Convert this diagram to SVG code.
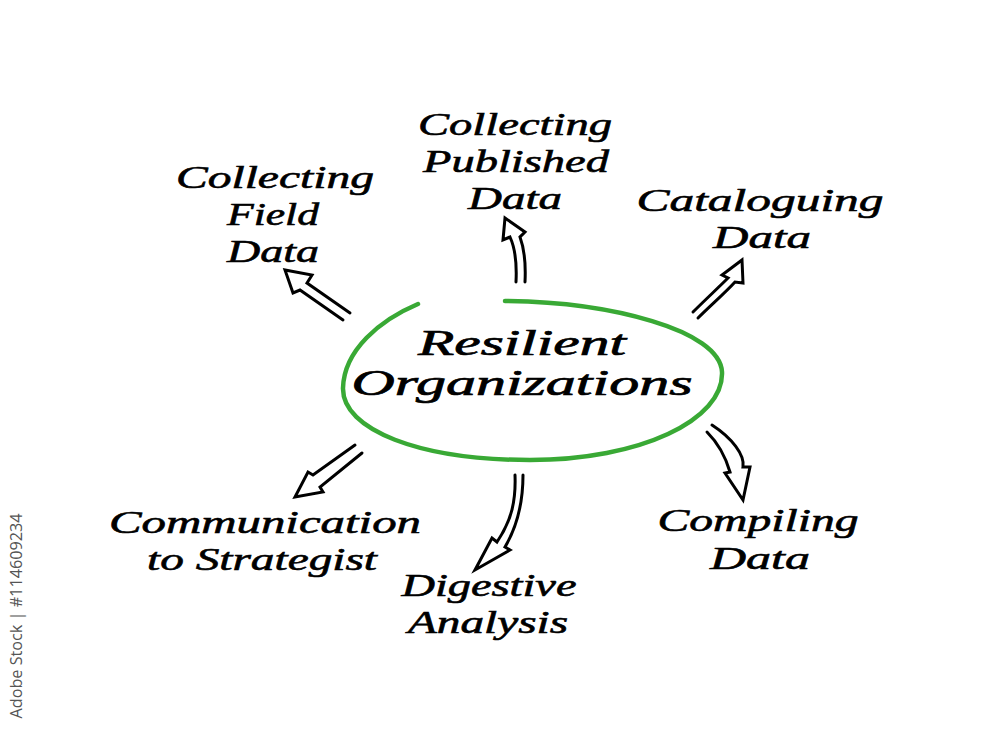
<svg xmlns="http://www.w3.org/2000/svg" width="1000" height="751" viewBox="0 0 1000 751">
  <style>
    .lbl { font-family: "Liberation Serif", serif; font-style: italic; font-size: 32px; fill: #000; stroke: #000; stroke-width: 0.6; text-anchor: middle; }
    .main { font-size: 36px; stroke-width: 0.7; }
    .arrow { fill: none; stroke: #000; stroke-width: 3; stroke-linejoin: miter; stroke-linecap: round; }
    .ring { fill: none; stroke: #39a935; stroke-width: 4.5; stroke-linecap: round; }
    .wm { font-family: "Open Sans", "DejaVu Sans", sans-serif; font-size: 16px; fill: #555; text-anchor: middle; }
  </style>
  <rect width="1000" height="751" fill="#fff"/>

  <g id="center">
    <path class="ring" d="M505,301 C610,302 720,330 722,372 C724,420 640,460 530,460 C420,460 342,430 343,388 C344,350 380,320 418,304"/>
    <text class="lbl main" x="522" y="355" textLength="208" lengthAdjust="spacingAndGlyphs">Resilient</text>
    <text class="lbl main" x="522" y="395" textLength="341" lengthAdjust="spacingAndGlyphs">Organizations</text>
  </g>

  <g id="field">
    <text class="lbl" x="275" y="188" textLength="198" lengthAdjust="spacingAndGlyphs">Collecting</text>
    <text class="lbl" x="273" y="225" textLength="92" lengthAdjust="spacingAndGlyphs">Field</text>
    <text class="lbl" x="273" y="262" textLength="92" lengthAdjust="spacingAndGlyphs">Data</text>
  </g>

  <g id="published">
    <text class="lbl" x="515" y="135" textLength="194" lengthAdjust="spacingAndGlyphs">Collecting</text>
    <text class="lbl" x="516" y="172" textLength="186" lengthAdjust="spacingAndGlyphs">Published</text>
    <text class="lbl" x="515" y="209" textLength="94" lengthAdjust="spacingAndGlyphs">Data</text>
  </g>

  <g id="cataloguing">
    <text class="lbl" x="760" y="211" textLength="247" lengthAdjust="spacingAndGlyphs">Cataloguing</text>
    <text class="lbl" x="762" y="248" textLength="98" lengthAdjust="spacingAndGlyphs">Data</text>
  </g>

  <g id="compiling">
    <text class="lbl" x="758" y="531" textLength="201" lengthAdjust="spacingAndGlyphs">Compiling</text>
    <text class="lbl" x="760" y="569" textLength="100" lengthAdjust="spacingAndGlyphs">Data</text>
  </g>

  <g id="digestive">
    <text class="lbl" x="489" y="596" textLength="175" lengthAdjust="spacingAndGlyphs">Digestive</text>
    <text class="lbl" x="488" y="633" textLength="160" lengthAdjust="spacingAndGlyphs">Analysis</text>
  </g>

  <g id="communication">
    <text class="lbl" x="265" y="533" textLength="312" lengthAdjust="spacingAndGlyphs">Communication</text>
    <text class="lbl" x="262" y="570" textLength="230" lengthAdjust="spacingAndGlyphs">to Strategist</text>
  </g>

  <g id="connectors">
    <path class="arrow" d="M343,320 L300,290 L293,293 L285,270 L312,275 L307,283 L350,313"/>
    <path class="arrow" d="M516,282 C517,262 515,248 510,237 L503,240 L505,218 L525,232 L520,237 C524,248 526,262 525,282"/>
    <path class="arrow" d="M693,312 C705,300 718,288 728,278 L722,275 L742,260 L743,283 L735,282 C725,293 711,305 698,318"/>
    <path class="arrow" d="M712,425 C732,438 745,455 743,467 L750,467 L743,500 L725,473 L730,472 C725,455 718,443 707,432"/>
    <path class="arrow" d="M515,475 C516,500 512,520 497,542 L492,538 L475,570 L510,550 L505,547 C515,530 523,505 523,475"/>
    <path class="arrow" d="M355,445 L313,475 L308,472 L295,497 L323,492 L320,487 L362,453"/>
  </g>

  <text class="wm" transform="translate(22,616) rotate(-90)" textLength="205" lengthAdjust="spacingAndGlyphs">Adobe Stock | #114609234</text>
</svg>
